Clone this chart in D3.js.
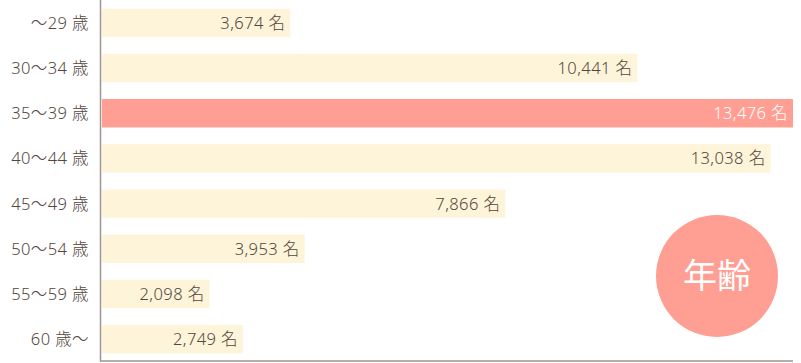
<!DOCTYPE html>
<html>
<head>
<meta charset="utf-8">
<script src="https://cdn.jsdelivr.net/npm/d3@7"></script>
<style>
  body { margin: 0; background: #fff; }
  svg { display: block; font-family: "Noto Sans", "Noto Sans CJK JP", sans-serif; }
</style>
</head>
<body>
<svg class="main-svg" width="801" height="363"></svg>
<script>
'use strict'

const categories = ['～29 歳', '30～34 歳', '35～39 歳', '40～44 歳', '45～49 歳', '50～54 歳', '55～59 歳', '60 歳～']
const counts = [3674, 10441, 13476, 13038, 7866, 3953, 2098, 2749]
const highlighted = '35～39 歳'
const badgeText = '年齢'

const textColor = '#54463e'
const barColor = '#fdf4d9'
const hiColor = '#ff9e93'
const axisColor = '#a0958e'

const svg = d3.select('.main-svg')

const x = d3.scaleLinear()
  .domain([0, d3.max(counts)])
  .range([102, 793])

const y = d3.scaleBand()
  .domain(categories)
  .range([1, 361])
  .paddingInner(0.37)
  .paddingOuter(0.17)

const data = categories.map((c, i) => ({ cat: c, value: counts[i] }))

const g = svg.append('g')

g.selectAll('.bar')
  .data(data)
  .join('rect')
  .attr('class', 'bar')
  .attr('x', x(0))
  .attr('y', d => y(d.cat))
  .attr('width', d => x(d.value) - x(0))
  .attr('height', y.bandwidth())
  .attr('fill', d => d.cat === highlighted ? hiColor : barColor)

g.selectAll('.val')
  .data(data)
  .join('text')
  .attr('class', 'val')
  .attr('x', d => x(d.value) - 5)
  .attr('y', d => y(d.cat) + y.bandwidth() / 2)
  .attr('dy', '0.36em')
  .attr('text-anchor', 'end')
  .attr('font-size', 16.5)
  .attr('font-weight', 300)
  .attr('letter-spacing', 0.4)
  .attr('fill', d => d.cat === highlighted ? '#fff' : textColor)
  .text(d => d3.format(',')(d.value) + ' 名')

// y axis labels
g.selectAll('.cat')
  .data(categories)
  .join('text')
  .attr('class', 'cat')
  .attr('x', 89)
  .attr('y', d => y(d) + y.bandwidth() / 2)
  .attr('dy', '0.36em')
  .attr('text-anchor', 'end')
  .attr('font-size', 16.5)
  .attr('font-weight', 300)
  .attr('letter-spacing', 0.4)
  .attr('fill', textColor)
  .text(d => d)

// axis lines
svg.append('line')
  .attr('x1', 100.5).attr('x2', 100.5)
  .attr('y1', 0).attr('y2', 361.5)
  .attr('stroke', axisColor).attr('stroke-width', 1.5)
svg.append('line')
  .attr('x1', 100).attr('x2', x.range()[1])
  .attr('y1', 361).attr('y2', 361)
  .attr('stroke', axisColor).attr('stroke-width', 1.5)

// badge
const badge = svg.append('g').attr('transform', 'translate(717,276)')
badge.append('circle').attr('r', 61).attr('fill', hiColor)
badge.append('text')
  .attr('text-anchor', 'middle')
  .attr('dy', '0.36em')
  .attr('font-size', 34)
  .attr('fill', '#fff')
  .text(badgeText)
</script>
</body>
</html>
